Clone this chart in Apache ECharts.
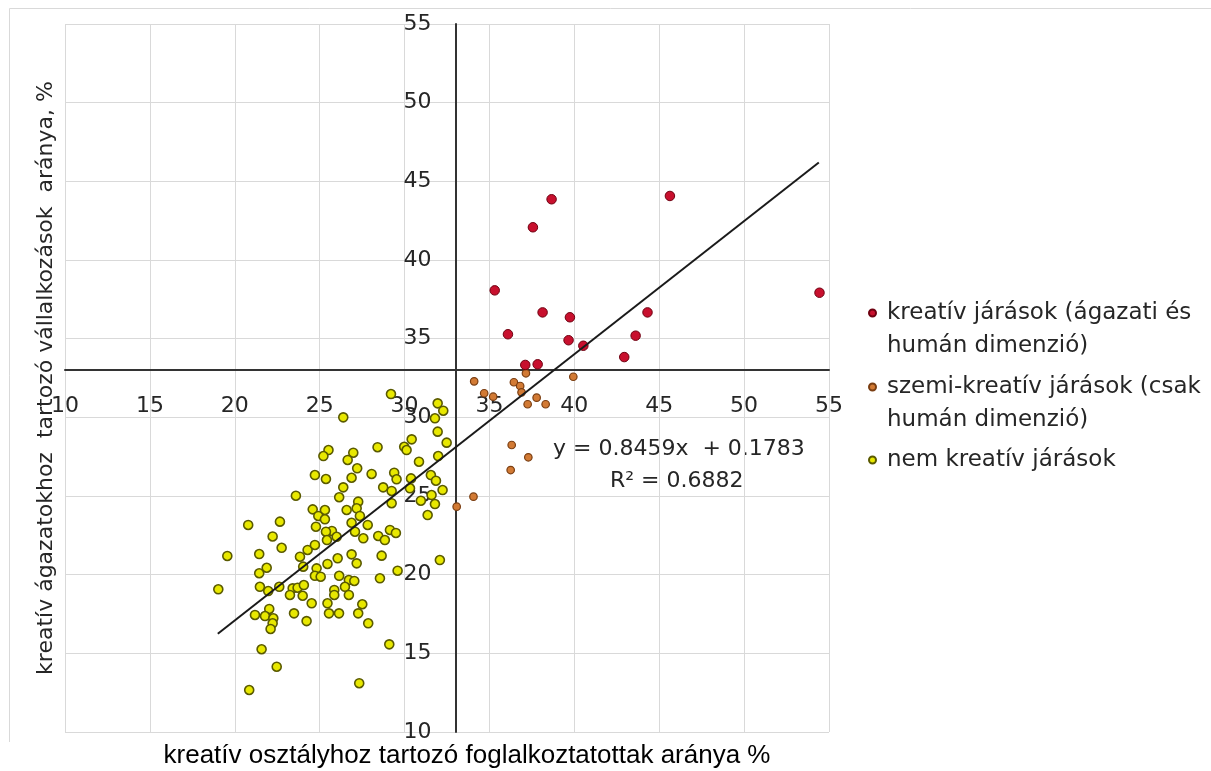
<!DOCTYPE html>
<html><head><meta charset="utf-8">
<script src="https://cdn.jsdelivr.net/npm/echarts/dist/echarts.min.js"></script>
<style>html,body{margin:0;padding:0;background:#fff}#c{width:1211px;height:771px}</style>
</head><body><div id="c"></div><script>
// ---- data ----
const xTicks = [10, 15, 20, 25, 30, 35, 40, 45, 50, 55];
const yTicks = [10, 15, 20, 25, 30, 35, 40, 45, 50, 55];
const axisCross = [33, 33];
const seriesNames = [
  'kreatív járások (ágazati és humán dimenzió)',
  'szemi-kreatív járások (csak humán dimenzió)',
  'nem kreatív járások'
];
const legendLabels = [
  'kreatív járások (ágazati és\nhumán dimenzió)',
  'szemi-kreatív járások (csak\nhumán dimenzió)',
  'nem kreatív járások'
];
const kreativ = [
  [38.66,43.86],[45.63,44.07],[37.56,42.08],[35.31,38.07],[54.44,37.92],
  [38.13,36.67],[39.74,36.36],[44.31,36.67],[36.09,35.28],[39.66,34.90],
  [43.61,35.19],[40.53,34.55],[42.94,33.83],[37.11,33.33],[37.84,33.37]
];
const szemiKreativ = [
  [34.10,32.29],[34.69,31.53],[35.22,31.31],[36.44,32.23],[36.81,31.99],
  [36.89,31.59],[37.15,32.80],[39.94,32.58],[37.25,30.83],[37.78,31.25],
  [38.31,30.83],[36.31,28.24],[37.29,27.46],[36.25,26.65],[34.06,24.96],
  [33.07,24.32]
];
const nemKreativ = [
  [29.20,31.48],[26.39,30.00],[31.95,30.89],[32.28,30.42],[31.79,29.94],
  [31.95,29.09],[32.48,28.39],[30.42,28.60],[29.98,28.13],[30.12,27.92],
  [28.41,28.10],[26.98,27.75],[26.65,27.29],[31.98,27.54],[30.85,27.18],
  [27.21,26.76],[28.06,26.40],[29.39,26.48],[29.53,26.06],[26.88,26.16],
  [30.38,26.12],[31.55,26.33],[31.85,25.97],[30.32,25.49],[32.24,25.38],
  [28.74,25.55],[29.24,25.32],[26.39,25.55],[26.15,24.92],[31.59,25.06],
  [30.96,24.70],[31.79,24.49],[29.24,24.54],[27.27,24.64],[27.18,24.22],
  [26.59,24.11],[27.37,23.73],[31.36,23.79],[26.88,23.30],[27.83,23.16],
  [25.72,22.78],[27.08,22.73],[28.45,22.46],[29.14,22.84],[29.49,22.65],
  [28.84,22.20],[32.08,20.93],[28.65,21.21],[29.59,20.25],[28.55,19.77],
  [27.18,20.72],[26.88,21.29],[26.06,21.04],[25.46,20.68],[26.15,19.93],
  [26.72,19.66],[27.04,19.60],[26.49,19.23],[25.86,19.03],[25.86,18.71],
  [26.72,18.71],[27.51,18.12],[25.46,18.18],[25.55,17.54],[26.14,17.54],
  [27.27,17.54],[27.86,16.91],[29.10,15.57],[27.33,13.10],[27.57,22.31],
  [26.00,22.41],
  [25.52,27.92],[25.22,27.54],[24.72,26.33],[25.37,26.08],[23.60,25.02],
  [24.59,24.15],[25.31,24.11],[24.92,23.73],[25.31,23.52],[24.78,23.05],
  [25.37,22.73],[20.79,23.16],[22.66,23.37],[22.23,22.43],[22.76,21.71],
  [19.56,21.19],[21.44,21.31],[21.88,20.44],[21.44,20.09],[23.84,21.14],
  [24.29,21.57],[24.72,21.89],[25.43,22.20],[24.82,20.40],[24.72,19.93],
  [25.06,19.87],[24.03,20.51],[19.03,19.07],[21.48,19.23],[22.62,19.23],
  [21.97,18.96],[23.41,19.13],[23.70,19.17],[24.07,19.34],[23.25,18.71],
  [24.00,18.66],[24.53,18.18],[22.03,17.82],[21.19,17.44],[21.78,17.37],
  [22.27,17.23],[22.23,16.91],[22.11,16.55],[23.49,17.54],[24.23,17.05],
  [21.58,15.26],[22.47,14.15],[20.85,12.67]
];
const trendX = [19.0, 54.4];
const trendY = [16.25, 46.2];
const equationText = 'y = 0.8459x  + 0.1783';
const r2Text = 'R² = 0.6882';
const xTitle = 'kreatív osztályhoz tartozó foglalkoztatottak aránya %';
const yTitle = 'kreatív ágazatokhoz  tartozó vállalkozások  aránya, %';

// ---- chart ----
const chart = echarts.init(document.getElementById('c'), null, {renderer: 'canvas'});
const FONT = 'DejaVu Sans';
const axisLineStyle = {color: '#333333', width: 2};
const gridLeft = 65, gridTop = 24, gridW = 764, gridH = 708;
const xMin = xTicks[0], xMax = xTicks[xTicks.length - 1];
const yMin = yTicks[0], yMax = yTicks[yTicks.length - 1];
// offsets that move the axis lines to the crossing point (computed from scale)
const yAxisOffset = -(axisCross[0] - xMin) / (xMax - xMin) * gridW;
const xAxisOffset = -(axisCross[1] - yMin) / (yMax - yMin) * gridH;

function legendCfg(i, top, twoLine) {
  return {
    show: true, orient: 'vertical', left: 868, top: top, padding: 0,
    selectedMode: false, icon: 'circle', itemWidth: 7, itemHeight: 7,
    data: [seriesNames[i]],
    // leading blank line keeps the bullet level with the first text line
    formatter: () => (twoLine ? '\n' : '') + legendLabels[i],
    textStyle: {
      fontFamily: FONT, fontSize: 23, color: '#262626', lineHeight: 33,
      padding: [0, 0, 0, 6]
    }
  };
}

chart.setOption({
  animation: false,
  backgroundColor: '#ffffff',
  grid: {left: gridLeft, top: gridTop, width: gridW, height: gridH, containLabel: false, outerBoundsMode: 'none'},
  xAxis: {
    type: 'value', min: xMin, max: xMax, interval: 5,
    position: 'bottom', offset: xAxisOffset,
    axisLine: {show: true, onZero: false, lineStyle: axisLineStyle},
    axisTick: {show: false},
    axisLabel: {fontFamily: FONT, fontSize: 22, color: '#262626', margin: 25},
    splitLine: {show: true, lineStyle: {color: '#d9d9d9', width: 1}},
    name: xTitle, nameLocation: 'middle', nameGap: 373, nameMoveOverlap: false,
    nameTextStyle: {fontFamily: 'Liberation Sans', fontSize: 26, color: '#000000', padding: [0, 0, 0, 40]}
  },
  yAxis: {
    type: 'value', min: yMin, max: yMax, interval: 5,
    position: 'left', offset: yAxisOffset,
    axisLine: {show: true, onZero: false, lineStyle: axisLineStyle},
    axisTick: {show: false},
    axisLabel: {fontFamily: FONT, fontSize: 22, color: '#262626', margin: 24},
    splitLine: {show: true, lineStyle: {color: '#d9d9d9', width: 1}},
    name: yTitle, nameLocation: 'middle', nameGap: 398, nameMoveOverlap: false,
    nameTextStyle: {fontFamily: FONT, fontSize: 22, color: '#262626'}
  },
  legend: [
    legendCfg(0, 263.5, true),
    legendCfg(1, 337.5, true),
    legendCfg(2, 443.5, false)
  ],
  graphic: [
    {type: 'polyline', silent: true, z: -1,
     shape: {points: [[9.5, 742], [9.5, 8.5], [1211, 8.5]]},
     style: {stroke: '#d9d9d9', lineWidth: 1, fill: null}},
    {type: 'text', left: 553, top: 438, silent: true,
     style: {text: equationText, font: '22px "DejaVu Sans"', fill: '#262626'}},
    {type: 'text', left: 610, top: 470, silent: true,
     style: {text: r2Text, font: '22px "DejaVu Sans"', fill: '#262626'}}
  ],
  series: [
    {name: seriesNames[2], type: 'scatter', data: nemKreativ, symbolSize: 9, z: 2,
     itemStyle: {color: '#e8e800', borderColor: '#5a5a00', borderWidth: 1.6, opacity: 1}},
    {name: seriesNames[1], type: 'scatter', data: szemiKreativ, symbolSize: 7.5, z: 3,
     itemStyle: {color: '#d27a34', borderColor: '#7a3e12', borderWidth: 1.2, opacity: 1}},
    {name: seriesNames[0], type: 'scatter', data: kreativ, symbolSize: 9.5, z: 4,
     itemStyle: {color: '#c8102e', borderColor: '#6e0010', borderWidth: 1, opacity: 1}},
    {name: 'trend', type: 'line', data: trendX.map((x, i) => [x, trendY[i]]),
     showSymbol: false, symbol: 'none', silent: true, z: 5,
     lineStyle: {color: '#1a1a1a', width: 2}}
  ]
});
</script></body></html>
